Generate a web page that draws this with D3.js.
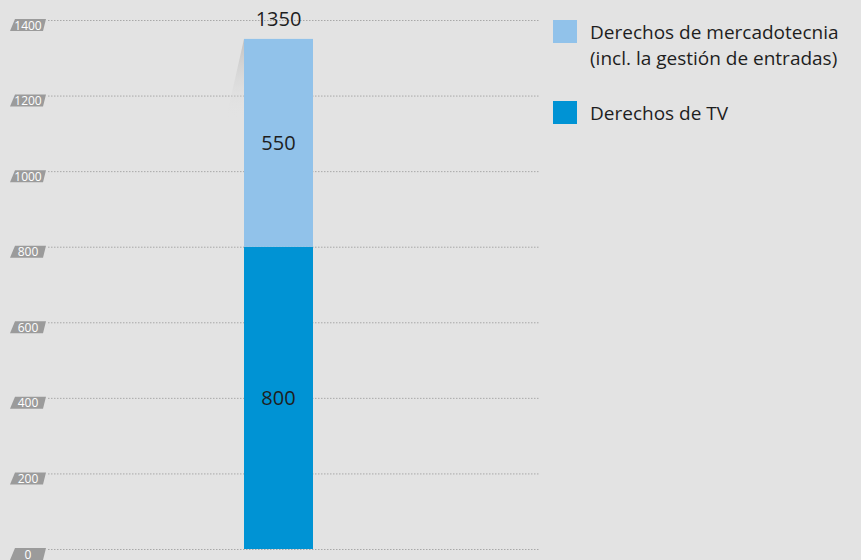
<!DOCTYPE html>
<html>
<head>
<meta charset="utf-8">
<script src="https://cdn.jsdelivr.net/npm/d3@7"></script>
<style>
  body { margin: 0; background: #e3e3e3; }
  svg { display: block; font-family: "Open Sans", sans-serif; }
</style>
</head>
<body>
<div id="chart"></div>
<script>
const categories = ["Total"]
const seriesNames = ["Derechos de TV", "Derechos de mercadotecnia (incl. la gestión de entradas)"]
const tvValues = [800]
const marketingValues = [550]
const yTicks = [0, 200, 400, 600, 800, 1000, 1200, 1400]

const width = 861, height = 560
const colors = ["#0093d4", "#91c2ea"]

const svg = d3.select("#chart").append("svg")
    .attr("width", width)
    .attr("height", height)

svg.append("rect")
    .attr("width", width).attr("height", height)
    .attr("fill", "#e3e3e3")

const y = d3.scaleLinear().domain([0, 1400]).range([549, 20])
const x = d3.scaleBand().domain(categories).range([244, 313])

// Gridlines
svg.append("g").selectAll("line")
  .data(yTicks)
  .enter().append("line")
    .attr("x1", 48).attr("x2", 539)
    .attr("y1", d => y(d) + 0.5).attr("y2", d => y(d) + 0.5)
    .attr("stroke", "#a8a8a8")
    .attr("stroke-width", 1)
    .attr("stroke-dasharray", "1.5,1.5")

// Tick badges
const badge = svg.append("g").selectAll("g")
  .data(yTicks)
  .enter().append("g")
    .attr("transform", d => "translate(0," + (y(d) - 1) + ")")

badge.append("path")
    .attr("d", "M15,0 L46,0 L43,12 L10,12 Z")
    .attr("fill", "#9b9b9b")

badge.append("text")
    .text(d => d)
    .attr("x", 28).attr("y", 10.5)
    .attr("text-anchor", "middle")
    .attr("font-size", 12)
    .attr("fill", "#fff")

// Stack
const stackData = categories.map((c, i) => ({ cat: c, tv: tvValues[i], mk: marketingValues[i] }))
const stack = d3.stack().keys(["tv", "mk"])(stackData)

// Shadow next to the top of the bar
const defs = svg.append("defs")
const grad = defs.append("linearGradient")
    .attr("id", "shade").attr("x1", 0).attr("y1", 0).attr("x2", 0).attr("y2", 1)
grad.append("stop").attr("offset", "0%").attr("stop-color", "#bdbdbd").attr("stop-opacity", 0.9)
grad.append("stop").attr("offset", "100%").attr("stop-color", "#e3e3e3").attr("stop-opacity", 0)

const topVal = tvValues[0] + marketingValues[0]
svg.append("path")
    .attr("d", "M" + x(categories[0]) + "," + y(topVal) +
               " L" + x(categories[0]) + "," + (y(topVal) + 80) +
               " L" + (x(categories[0]) - 18) + "," + (y(topVal) + 80) + " Z")
    .attr("fill", "url(#shade)")

svg.append("g").selectAll("g")
  .data(stack)
  .enter().append("g")
    .attr("fill", (d, i) => colors[i])
  .selectAll("rect")
  .data(d => d)
  .enter().append("rect")
    .attr("x", d => x(d.data.cat))
    .attr("width", x.bandwidth())
    .attr("y", d => y(d[1]))
    .attr("height", d => y(d[0]) - y(d[1]))

// Segment labels
stack.forEach(s => {
  s.forEach(d => {
    svg.append("text")
        .text(d[1] - d[0])
        .attr("x", x(d.data.cat) + x.bandwidth() / 2)
        .attr("y", (y(d[0]) + y(d[1])) / 2 + 7)
        .attr("text-anchor", "middle")
        .attr("font-size", 20)
        .attr("fill", "#1e1e1e")
  })
})

// Total
svg.append("text")
    .text(topVal)
    .attr("x", x(categories[0]) + x.bandwidth() / 2)
    .attr("y", 26)
    .attr("text-anchor", "middle")
    .attr("font-size", 20)
    .attr("fill", "#1e1e1e")

// Legend
const legend = [
  { color: colors[1], lines: ["Derechos de mercadotecnia", "(incl. la gestión de entradas)"], y: 20 },
  { color: colors[0], lines: ["Derechos de TV"], y: 101 }
]
legend.forEach(l => {
  svg.append("rect")
      .attr("x", 553).attr("y", l.y)
      .attr("width", 24).attr("height", 23)
      .attr("fill", l.color)
  l.lines.forEach((t, i) => {
    svg.append("text")
        .text(t)
        .attr("x", 590)
        .attr("y", l.y + 19 + i * 26)
        .attr("font-size", 19)
        .attr("fill", "#1e1e1e")
  })
})
</script>
</body>
</html>
